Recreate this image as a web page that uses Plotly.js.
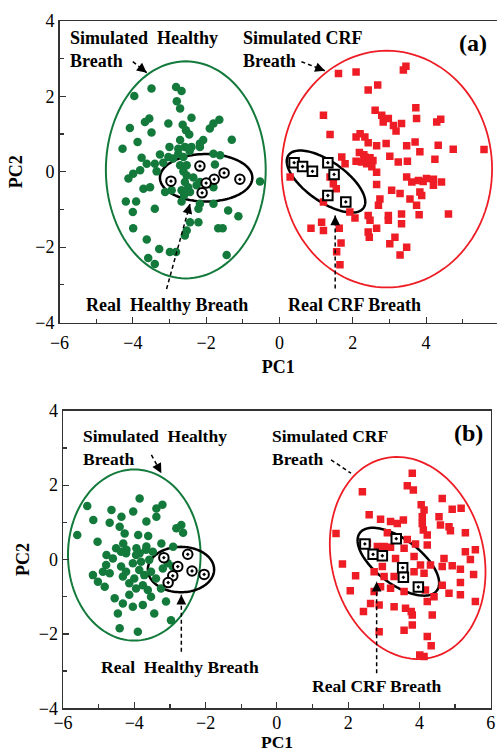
<!DOCTYPE html>
<html>
<head>
<meta charset="utf-8">
<script src="https://cdn.plot.ly/plotly-3.0.1.min.js"></script>
<style>html,body{margin:0;padding:0;background:#fff;}#chart{width:497px;height:753px;}</style>
</head>
<body>
<div id="chart"></div>
<script>
// ---------- Panel (a) data ----------
var simHealthyA_x = [-3.49,-2.82,-2.67,-3.96,-2.80,-2.71,-3.55,-3.67,-2.40,-2.64,-3.03,-1.64,-1.80,-4.08,-3.49,-2.55,-2.46,-1.90,-1.30,-2.08,-2.17,-4.28,-3.87,-2.71,-2.76,-3.00,-2.58,-2.40,-2.17,-3.26,-2.76,-1.80,-1.62,-3.76,-3.03,-2.90,-2.62,-3.62,-3.17,-3.40,-3.80,-3.99,-4.12,-3.35,-2.71,-2.53,-1.76,-2.62,-2.53,-2.58,-2.49,-2.26,-2.17,-2.44,-2.67,-3.71,-3.53,-2.94,-3.12,-0.53,-1.80,-4.19,-3.91,-2.67,-2.17,-2.21,-1.80,-4.00,-3.40,-1.40,-1.12,-2.44,-2.21,-3.99,-2.53,-2.58,-1.67,-1.55,-3.62,-3.28,-2.99,-2.82,-1.44,-3.58,-3.40,-2.45,-2.35,-2.60];
var simHealthyA_y = [2.21,2.25,2.14,2.01,1.87,1.68,1.41,1.32,1.43,1.25,1.28,1.38,1.28,1.16,1.04,1.10,0.99,1.15,0.85,0.84,0.75,0.61,0.79,0.84,0.61,0.66,0.66,0.66,0.66,0.46,0.48,0.48,0.44,0.37,0.39,0.35,0.39,0.21,0.24,0.21,0.04,-0.05,-0.18,0.01,0.17,0.17,0.19,0.01,-0.10,-0.27,-0.41,-0.36,-0.27,-0.54,-0.49,-0.45,-0.41,-0.49,-0.54,-0.26,-0.41,-0.79,-0.79,-0.79,-0.85,-0.98,-0.85,-1.07,-0.98,-1.03,-1.18,-1.34,-1.34,-1.50,-1.56,-1.69,-1.50,-1.50,-1.80,-2.05,-2.13,-2.13,-2.21,-2.29,-2.45,0.55,-0.15,-0.62];
var realHealthyA_x = [-2.17,-1.51,-1.08,-1.78,-2.00,-2.96,-2.11];
var realHealthyA_y = [0.15,-0.03,-0.20,-0.20,-0.30,-0.25,-0.56];
var simCrfA_x = [1.61,2.09,3.38,3.45,2.42,2.68,1.20,2.61,2.79,2.83,2.97,3.11,3.18,3.33,3.72,3.74,4.29,4.40,1.38,2.09,2.20,2.33,2.42,2.65,2.91,3.47,3.70,4.33,4.74,5.58,2.18,2.33,2.47,2.24,2.09,2.38,2.52,2.65,1.70,1.79,3.01,3.24,3.49,3.83,4.24,0.29,1.38,1.47,3.47,3.61,3.79,3.92,4.01,4.20,4.42,4.20,2.65,3.06,3.29,3.83,3.88,3.56,3.74,2.74,2.70,1.20,1.92,2.06,2.42,2.47,2.97,2.97,3.33,3.33,3.81,4.61,0.86,1.15,1.20,1.63,2.42,2.45,2.65,3.15,3.01,3.47,3.29,1.68,1.56,1.65,2.30,2.55,1.55];
var simCrfA_y = [2.61,2.65,2.70,2.80,2.17,2.30,1.50,1.63,1.50,1.32,1.41,1.23,1.08,1.28,1.70,1.41,1.32,1.39,0.99,0.92,1.01,0.92,0.77,0.69,0.75,0.69,0.79,0.70,0.60,0.59,0.51,0.39,0.37,0.26,0.28,0.21,0.13,-0.01,0.39,0.21,0.41,0.26,0.28,0.53,0.33,-0.14,-0.14,-0.32,-0.14,-0.27,-0.23,-0.26,-0.18,-0.20,-0.27,-0.36,-0.34,-0.49,-0.58,-0.54,-0.63,-0.72,-0.89,-0.72,-0.89,-0.80,-1.07,-1.23,-1.16,-1.29,-1.16,-1.29,-1.12,-1.38,-1.14,-1.12,-1.50,-1.34,-1.56,-1.50,-1.60,-1.74,-1.50,-1.74,-1.91,-2.00,-2.21,-1.89,-2.12,-2.47,0.45,0.30,-0.45];
var realCrfA_x = [0.40,0.63,0.90,1.32,1.49,1.32,1.81];
var realCrfA_y = [0.24,0.14,0.01,0.24,-0.07,-0.63,-0.80];

// ---------- Panel (b) data ----------
var simHealthyB_x = [-5.32,-3.85,-5.15,-4.64,-4.69,-4.36,-4.03,-4.41,-4.27,-3.89,-3.66,-3.61,-3.38,-3.21,-3.38,-2.82,-2.68,-2.63,-5.60,-5.03,-4.31,-4.22,-3.94,-3.24,-2.91,-3.66,-3.85,-4.78,-5.16,-5.02,-4.83,-4.88,-4.79,-4.60,-4.37,-4.23,-4.32,-4.14,-4.00,-3.86,-3.72,-4.04,-3.81,-3.58,-3.48,-3.67,-3.95,-4.23,-4.37,-4.51,-3.53,-3.39,-3.25,-3.76,-3.95,-4.55,-4.32,-4.14,-3.76,-3.53,-3.11,-4.46,-4.04,-3.44,-2.97,-4.41,-3.90,-3.20,-3.06,-2.92,-4.69,-3.62];
var simHealthyB_y = [1.44,1.64,1.06,1.33,0.99,1.15,1.29,0.88,0.70,0.66,1.02,0.63,1.37,1.47,1.15,0.84,0.93,0.72,0.66,0.48,0.43,0.26,0.30,0.43,0.34,0.35,0.17,0.12,-0.42,-0.60,-0.73,-0.33,-0.15,0.03,-0.19,-0.33,-0.46,-0.64,-0.51,-0.28,-0.42,-0.10,-0.06,-0.01,0.21,0.26,0.12,0.17,0.21,0.30,-0.33,-0.51,-0.78,-0.69,-0.78,-1.04,-1.18,-0.95,-1.22,-1.00,-1.13,-1.45,-1.27,-1.45,-1.63,-1.85,-1.94,-0.24,-0.10,-0.19,-0.37,-0.82];
var realHealthyB_x = [-3.17,-2.50,-2.78,-2.38,-2.04,-2.92,-3.05];
var realHealthyB_y = [0.05,0.14,-0.19,-0.31,-0.40,-0.44,-0.62];
var simCrfB_x = [3.80,2.40,3.66,3.83,4.64,4.05,4.13,4.92,5.17,2.59,2.91,3.19,3.38,3.55,4.08,4.55,4.08,4.59,4.83,4.87,4.11,4.22,5.29,1.66,3.10,3.66,3.89,4.22,3.01,3.19,3.57,2.82,2.54,5.29,5.57,5.43,4.69,4.92,5.15,4.64,4.03,4.31,3.85,3.33,1.84,2.21,2.73,3.01,3.29,2.96,3.85,4.13,5.52,5.15,2.06,2.73,2.91,3.19,3.57,4.17,4.41,4.64,4.83,5.15,2.63,2.87,3.29,3.61,3.77,3.80,4.22,5.57,2.43,4.36,3.80,3.57,2.87,4.22,4.33,4.01,4.13];
var simCrfB_y = [2.32,1.82,1.98,1.87,1.64,1.47,1.33,1.35,1.38,1.20,1.08,1.02,0.97,1.06,1.15,1.15,0.97,0.93,0.88,0.77,0.79,0.66,0.72,0.70,0.72,0.54,0.42,0.39,0.35,0.33,0.30,0.35,0.44,0.21,0.26,0.00,0.03,-0.17,-0.26,-0.19,-0.15,-0.15,0.08,0.03,-0.12,-0.44,-0.33,-0.46,-0.46,-0.19,-0.33,-0.37,-0.40,-0.62,-0.84,-0.86,-0.73,-0.77,-0.86,-0.82,-1.00,-0.69,-0.91,-0.95,-1.18,-1.22,-1.27,-1.31,-1.40,-1.49,-1.13,-1.13,-1.40,-1.49,-1.76,-1.90,-1.94,-2.07,-2.32,-2.57,-2.61];
var realCrfB_x = [2.47,2.70,2.96,3.35,3.53,3.55,3.97];
var realCrfB_y = [0.42,0.14,0.10,0.56,-0.22,-0.48,-0.74];

var tickVals = [-6,-4,-2,0,2,4,6];
var yTickVals = [-4,-2,0,2,4];

// ---------- styling ----------
var GREEN = '#137a3c', RED = '#ee1d25';
var FONT = '"Liberation Serif","Times New Roman",serif';

function ellipsePath(cx, cy, a, b, deg) {
  var th = deg * Math.PI / 180, pts = [];
  for (var i = 0; i <= 120; i++) {
    var t = 2 * Math.PI * i / 120;
    var ex = a * Math.cos(t), ey = b * Math.sin(t);
    var x = cx + ex * Math.cos(th) - ey * Math.sin(th);
    var y = cy + ex * Math.sin(th) + ey * Math.cos(th);
    pts.push((i ? 'L' : 'M') + x.toFixed(4) + ',' + y.toFixed(4));
  }
  return pts.join(' ') + ' Z';
}

function simTrace(x, y, color, symbol, size, xa, ya) {
  return {x: x, y: y, xaxis: xa, yaxis: ya, type: 'scatter', mode: 'markers',
    marker: {color: color, symbol: symbol, size: size, line: {width: 0}}, hoverinfo: 'skip'};
}
function realTrace(x, y, symbol, xa, ya) {
  return {x: x, y: y, xaxis: xa, yaxis: ya, type: 'scatter', mode: 'markers',
    marker: {color: '#ffffff', symbol: symbol, size: 9.5, line: {color: '#000', width: 2}}, hoverinfo: 'skip'};
}

var data = [
  simTrace(simHealthyA_x, simHealthyA_y, GREEN, 'circle', 8.5, 'x', 'y'),
  simTrace(simCrfA_x, simCrfA_y, RED, 'square', 7.5, 'x', 'y'),
  realTrace(realHealthyA_x, realHealthyA_y, 'circle-dot', 'x', 'y'),
  realTrace(realCrfA_x, realCrfA_y, 'square-dot', 'x', 'y'),
  simTrace(simHealthyB_x, simHealthyB_y, GREEN, 'circle', 8.5, 'x2', 'y2'),
  simTrace(simCrfB_x, simCrfB_y, RED, 'square', 7.5, 'x2', 'y2'),
  realTrace(realHealthyB_x, realHealthyB_y, 'circle-dot', 'x2', 'y2'),
  realTrace(realCrfB_x, realCrfB_y, 'square-dot', 'x2', 'y2')
];

function ell(xr, yr, cx, cy, a, b, deg, color, w) {
  return {type: 'path', xref: xr, yref: yr, path: ellipsePath(cx, cy, a, b, deg),
    line: {color: color, width: w}, layer: 'below'};
}
function dline(xr, yr, x0, y0, x1, y1) {
  return {type: 'line', xref: xr, yref: yr, x0: x0, y0: y0, x1: x1, y1: y1,
    line: {color: '#000', width: 1.5, dash: '4px,3px'}, layer: 'above'};
}
function head(xr, yr, x0, y0, x1, y1) {
  // arrowhead at (x1,y1) pointing from (x0,y0)
  var dx = x1 - x0, dy = y1 - y0, L = Math.sqrt(dx * dx + dy * dy), k = 0.12 / L;
  return {xref: xr, yref: yr, axref: xr, ayref: yr, x: x1, y: y1, ax: x1 - dx * k, ay: y1 - dy * k,
    text: '', showarrow: true, arrowhead: 2, arrowsize: 1.3, arrowwidth: 1.5, arrowcolor: '#000'};
}
function label(xr, yr, x, y, text, size, anchor) {
  return {xref: xr, yref: yr, x: x, y: y, text: text, showarrow: false, xanchor: anchor || 'center',
    yanchor: 'middle', align: 'left', borderpad: 0, font: {family: FONT, size: size, color: '#000', weight: 'bold'}};
}

var arrowsA = [
  [-4.00, 2.92, -3.62, 2.63], [0.60, 2.92, 1.24, 2.68],
  [-3.08, -3.11, -2.44, -0.85], [1.52, -3.10, 1.52, -1.16]
];
var arrowsB = [
  [-3.52, 2.81, -3.24, 2.32], [1.52, 2.68, 2.08, 2.32],
  [-2.68, -2.48, -2.68, -0.95], [2.80, -3.06, 2.80, -0.60]
];

var shapes = [
  ell('x', 'y', -2.555, 0.05, 2.18, 2.88, 0, GREEN, 2),
  ell('x', 'y', 2.93, 0.07, 2.87, 3.14, 0, RED, 1.8),
  ell('x', 'y', -2.0, -0.16, 1.26, 0.63, 0, '#000', 2.5),
  ell('x', 'y', 1.27, -0.26, 1.24, 0.535, -34, '#000', 2.5),
  ell('x2', 'y2', -4.0, 0.12, 1.86, 2.3, 0, GREEN, 2),
  ell('x2', 'y2', 3.67, 0.04, 2.13, 2.76, 16, RED, 1.8),
  ell('x2', 'y2', -2.69, -0.27, 0.93, 0.61, 0, '#000', 2.5),
  ell('x2', 'y2', 3.41, -0.06, 1.33, 0.61, -35, '#000', 2.5)
];
var annotations = [];
arrowsA.forEach(function (a) { shapes.push(dline('x', 'y', a[0], a[1], a[2], a[3])); annotations.push(head('x', 'y', a[0], a[1], a[2], a[3])); });
arrowsB.forEach(function (a) { shapes.push(dline('x2', 'y2', a[0], a[1], a[2], a[3])); annotations.push(head('x2', 'y2', a[0], a[1], a[2], a[3])); });

annotations.push(
  label('x', 'y', -5.74, 3.24, 'Simulated\u00a0 Healthy<br>Breath', 18, 'left'),
  label('x', 'y', -1.02, 3.24, 'Simulated CRF<br>Breath', 18, 'left'),
  label('x', 'y', 5.28, 3.41, '(a)', 24),
  label('x', 'y', -3.07, -3.53, 'Real\u00a0 Healthy Breath', 18),
  label('x', 'y', 2.06, -3.53, 'Real CRF Breath', 18),
  label('x2', 'y2', -5.47, 3.02, 'Simulated\u00a0 Healthy<br>Breath', 17.5, 'left'),
  label('x2', 'y2', -0.16, 3.02, 'Simulated CRF<br>Breath', 17.5, 'left'),
  label('x2', 'y2', 5.38, 3.39, '(b)', 24),
  label('x2', 'y2', -2.73, -2.88, 'Real\u00a0 Healthy Breath', 17.5),
  label('x2', 'y2', 2.82, -3.40, 'Real CRF Breath', 17.5),
  // x-axis title of panel (b), placed below its tick labels at the page bottom
  {xref: 'paper', yref: 'paper', x: 276.85 / 497, y: 0, text: '<b>PC1</b>', showarrow: false,
   xanchor: 'center', yanchor: 'bottom', borderpad: 0, font: {family: FONT, size: 17.5, color: '#000'}}
);

function xax(domain, range, anchor, mirror, lblStandoff, title) {
  return {domain: domain, range: range, anchor: anchor, tickvals: tickVals, ticks: 'inside', ticklen: 6,
    tickwidth: 1.2, tickcolor: '#333', minor: {dtick: 1, ticks: 'inside', ticklen: 4, tickcolor: '#333', tickwidth: 1.2},
    showline: true, linecolor: '#333', linewidth: 1.5, mirror: mirror, showgrid: false, zeroline: false,
    tickfont: {family: FONT, size: 18, color: '#000'}, ticklabelstandoff: lblStandoff,
    title: title};
}
function yax(domain, anchor, mirror, standoff) {
  return {domain: domain, range: [-4, 4], anchor: anchor, tickvals: yTickVals, ticks: 'inside', ticklen: 6,
    tickwidth: 1.2, tickcolor: '#333', minor: {dtick: 1, ticks: 'inside', ticklen: 4, tickcolor: '#333', tickwidth: 1.2},
    showline: true, linecolor: '#333', linewidth: 1.5, mirror: mirror, showgrid: false, zeroline: false,
    tickfont: {family: FONT, size: 18, color: '#000'},
    title: {text: '<b>PC2</b>', font: {family: FONT, size: 18, color: '#000'}, standoff: standoff}};
}

var layout = {
  width: 497, height: 753, margin: {l: 0, r: 0, t: 0, b: 0},
  paper_bgcolor: '#fff', plot_bgcolor: '#fff', showlegend: false,
  font: {family: FONT, color: '#000'},
  xaxis: xax([59.5 / 497, 1], [-6, 5.934], 'y', true, 3,
    {text: '<b>PC1</b>', font: {family: FONT, size: 18, color: '#000'}, standoff: 9}),
  yaxis: yax([1 - 322.5 / 753, 1 - 21 / 753], 'x', false, 8),
  xaxis2: xax([63 / 497, 490.7 / 497], [-6, 6], 'y2', true, -2, {text: ''}),
  yaxis2: yax([1 - 708.3 / 753, 1 - 410.7 / 753], 'x2', true, 4),
  shapes: shapes, annotations: annotations
};

Plotly.newPlot('chart', data, layout, {staticPlot: true, displayModeBar: false});
</script>
</body>
</html>
